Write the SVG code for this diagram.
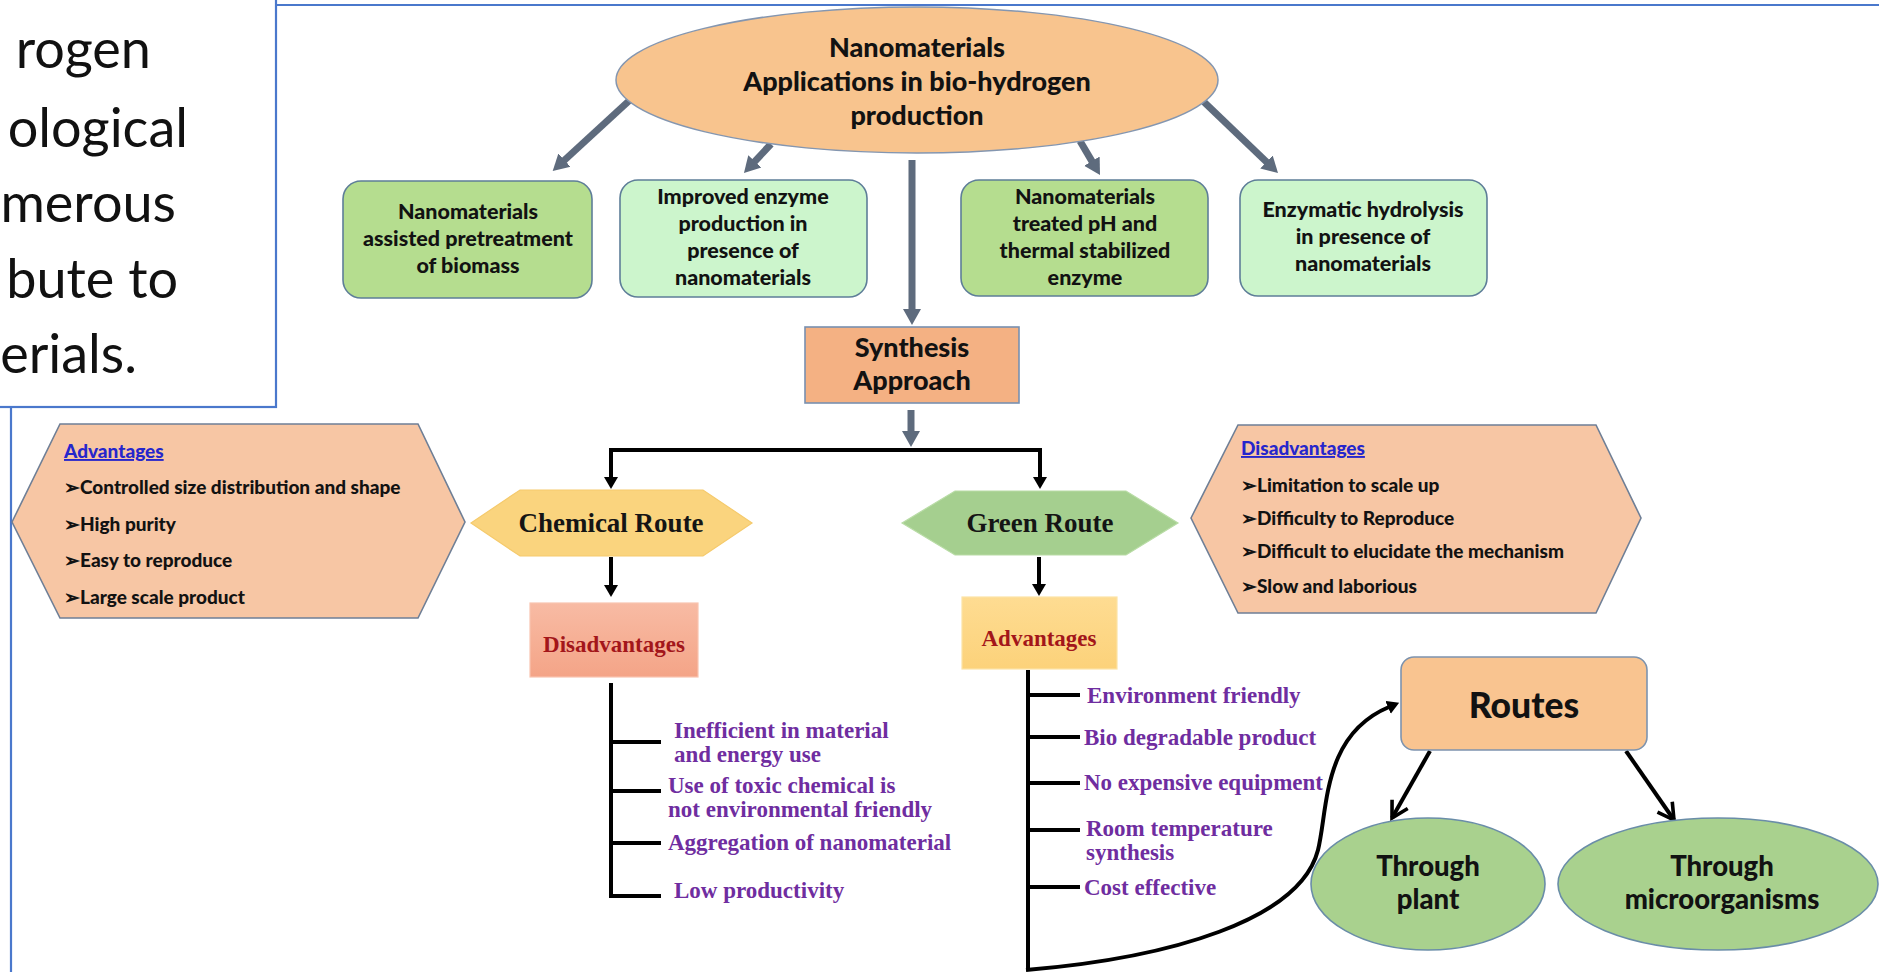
<svg xmlns="http://www.w3.org/2000/svg" width="1879" height="972" viewBox="0 0 1879 972">
  <defs>
    <style>
      .sans{font-family:Lato,"Open Sans","Liberation Sans",sans-serif;font-weight:900;fill:#121212}
      .serif{font-family:"Liberation Serif","DejaVu Serif",serif;font-weight:700}
      .mid{text-anchor:middle}
      .box{stroke:#5E7E98;stroke-width:1.6}
      .green{fill:#B5DD8F}
      .mint{fill:#CCF5CC}
      .peach{fill:#F7C6A4;stroke:#6F7F96;stroke-width:1.6}
      .item{font-size:19px}
      .head{font-size:19px;fill:#2626CC;text-decoration:underline}
      .tb{font-size:21.5px}
      .purple{fill:#6F2DA0;font-size:23px}
      .route{font-size:27px;fill:#151515}
      .red{fill:#A3161A;font-size:23px}
      .gray{stroke:#5E6B7D;stroke-width:7;fill:none}
      .blk{stroke:#000;stroke-width:4;fill:none}
      .frame{stroke:#4A78CC;stroke-width:2.2;fill:none}
    </style>
    <marker id="ag" markerUnits="userSpaceOnUse" markerWidth="20" markerHeight="20" viewBox="0 0 20 20" refX="2" refY="10" orient="auto">
      <path d="M0,1 L16,10 L0,19 z" fill="#5E6B7D"/>
    </marker>
    <marker id="ab" markerUnits="userSpaceOnUse" markerWidth="14" markerHeight="14" viewBox="0 0 14 14" refX="1" refY="7" orient="auto-start-reverse">
      <path d="M0,0 L12,7 L0,14 z" fill="#000"/>
    </marker>
    <marker id="av" markerUnits="userSpaceOnUse" markerWidth="24" markerHeight="24" viewBox="0 0 24 24" refX="19" refY="12" orient="auto">
      <path d="M3,3 L19,12 L3,21" fill="none" stroke="#000" stroke-width="3.6"/>
    </marker>
    <linearGradient id="gDis" x1="0" y1="0" x2="0" y2="1">
      <stop offset="0" stop-color="#F8BBA4"/>
      <stop offset="1" stop-color="#F4A487"/>
    </linearGradient>
    <linearGradient id="gAdv" x1="0" y1="0" x2="0" y2="1">
      <stop offset="0" stop-color="#FEDC92"/>
      <stop offset="1" stop-color="#FCD27A"/>
    </linearGradient>
  </defs>

  <rect width="1879" height="972" fill="#FFFFFF"/>

  <!-- slide frame behind the chart -->
  <path class="frame" d="M276,5 H1879 M11,407 V972"/>

  <!-- clipped slide text panel -->
  <g id="text-panel">
    <rect x="-10" y="-10" width="286" height="417" fill="#FFFFFF" class="frame"/>
    <g font-family="Lato,'Open Sans',sans-serif" font-size="54" fill="#111" text-anchor="end">
      <text x="151" y="68">rogen</text>
      <text x="188" y="147">ological</text>
      <text x="176" y="222">merous</text>
      <text x="178" y="298">bute to</text>
      <text x="137" y="373">erials.</text>
    </g>
  </g>

  <!-- connectors -->
  <g id="connectors">
    <line class="gray" x1="631" y1="99" x2="563" y2="161.5" marker-end="url(#ag)"/>
    <line class="gray" x1="771" y1="144" x2="753.5" y2="162.8" marker-end="url(#ag)"/>
    <line class="gray" x1="912" y1="160" x2="912" y2="311" marker-end="url(#ag)"/>
    <line class="gray" x1="1080" y1="141" x2="1092.9" y2="162.9" marker-end="url(#ag)"/>
    <line class="gray" x1="1204" y1="102" x2="1267.9" y2="163.3" marker-end="url(#ag)"/>
    <line class="gray" x1="911" y1="410" x2="911" y2="433" marker-end="url(#ag)"/>

    <path class="blk" d="M611,478 V450 H1040 V478" marker-start="url(#ab)" marker-end="url(#ab)"/>
    <line class="blk" x1="611" y1="557" x2="611" y2="586" marker-end="url(#ab)"/>
    <line class="blk" x1="1039" y1="557" x2="1039" y2="585" marker-end="url(#ab)"/>

    <!-- chemical route drawbacks tree -->
    <path class="blk" d="M611,683 V896 H661 M611,742 H661 M611,791 H661 M611,843 H661" stroke-width="4.5"/>
    <!-- green route benefits tree -->
    <path class="blk" d="M1028,670 V970 M1028,695 H1080 M1028,737 H1080 M1028,783 H1080 M1028,830 H1080 M1028,887 H1080" stroke-width="4.5"/>
    <path class="blk" d="M1026,970 C1170,958 1300,920 1318,850 C1328,810 1322,735 1389,707" stroke-width="3.5" marker-end="url(#ab)"/>

    <line class="blk" x1="1430" y1="751" x2="1392" y2="818" marker-end="url(#av)"/>
    <line class="blk" x1="1626" y1="751" x2="1674" y2="820" marker-end="url(#av)"/>
  </g>

  <!-- root topic -->
  <g id="root">
    <ellipse cx="917" cy="80" rx="301" ry="73" fill="#F8C48E" stroke="#8496B0" stroke-width="1.5"/>
    <text class="sans mid" font-size="27" x="917" y="57">Nanomaterials</text>
    <text class="sans mid" font-size="27" x="917" y="91">Applications in bio-hydrogen</text>
    <text class="sans mid" font-size="27" x="917" y="125">production</text>
  </g>

  <g id="pretreatment">
    <rect class="box green" x="343" y="181" width="249" height="117" rx="18"/>
    <text class="sans mid tb" x="468" y="219">Nanomaterials</text>
    <text class="sans mid tb" x="468" y="246">assisted pretreatment</text>
    <text class="sans mid tb" x="468" y="273">of biomass</text>
  </g>

  <g id="enzyme-production">
    <rect class="box mint" x="620" y="180" width="247" height="117" rx="18"/>
    <text class="sans mid tb" x="743" y="204">Improved enzyme</text>
    <text class="sans mid tb" x="743" y="231">production in</text>
    <text class="sans mid tb" x="743" y="258">presence of</text>
    <text class="sans mid tb" x="743" y="285">nanomaterials</text>
  </g>

  <g id="stabilized-enzyme">
    <rect class="box green" x="961" y="180" width="247" height="116" rx="18"/>
    <text class="sans mid tb" x="1085" y="204">Nanomaterials</text>
    <text class="sans mid tb" x="1085" y="231">treated pH and</text>
    <text class="sans mid tb" x="1085" y="258">thermal stabilized</text>
    <text class="sans mid tb" x="1085" y="285">enzyme</text>
  </g>

  <g id="hydrolysis">
    <rect class="box mint" x="1240" y="180" width="247" height="116" rx="18"/>
    <text class="sans mid tb" x="1363" y="217">Enzymatic hydrolysis</text>
    <text class="sans mid tb" x="1363" y="244">in presence of</text>
    <text class="sans mid tb" x="1363" y="271">nanomaterials</text>
  </g>

  <g id="synthesis">
    <rect x="805" y="327" width="214" height="76" fill="#F4B183" stroke="#7890B0" stroke-width="1.6"/>
    <text class="sans mid" font-size="27" x="912" y="357">Synthesis</text>
    <text class="sans mid" font-size="27" x="912" y="390">Approach</text>
  </g>

  <g id="chemical-advantages">
    <polygon class="peach" points="12,522 60,424 418,424 465,522 418,618 60,618"/>
    <text class="sans head" x="64" y="458">Advantages</text>
    <text class="sans item" x="64" y="494">➢Controlled size distribution and shape</text>
    <text class="sans item" x="64" y="531">➢High purity</text>
    <text class="sans item" x="64" y="567">➢Easy to reproduce</text>
    <text class="sans item" x="64" y="604">➢Large scale product</text>
  </g>

  <g id="chemical-route">
    <polygon points="471,523 520,490 703,490 752,523 703,556 520,556" fill="#FAD47E" stroke="#F5CA6C" stroke-width="1.2"/>
    <text class="serif route mid" x="611" y="532">Chemical Route</text>
  </g>

  <g id="green-route">
    <polygon points="902,523 955,491 1126,491 1178,523 1126,555 955,555" fill="#A5CF8F" stroke="#B9DCA6" stroke-width="1.2"/>
    <text class="serif route mid" x="1040" y="532">Green Route</text>
  </g>

  <g id="green-disadvantages">
    <polygon class="peach" points="1191,518 1238,425 1596,425 1641,518 1596,613 1238,613"/>
    <text class="sans head" x="1241" y="455">Disadvantages</text>
    <text class="sans item" x="1241" y="492">➢Limitation to scale up</text>
    <text class="sans item" x="1241" y="525">➢Difficulty to Reproduce</text>
    <text class="sans item" x="1241" y="558">➢Difficult to elucidate the mechanism</text>
    <text class="sans item" x="1241" y="593">➢Slow and laborious</text>
  </g>

  <g id="chemical-disadvantages">
    <rect x="530" y="603" width="168" height="74" fill="url(#gDis)" stroke="#F9C4B0" stroke-width="1.2"/>
    <text class="serif red mid" x="614" y="652">Disadvantages</text>
    <g class="serif purple">
      <text x="674" y="738">Inefficient in material</text>
      <text x="674" y="762">and energy use</text>
      <text x="668" y="793">Use of toxic chemical is</text>
      <text x="668" y="817">not environmental friendly</text>
      <text x="668" y="850">Aggregation of nanomaterial</text>
      <text x="674" y="898">Low productivity</text>
    </g>
  </g>

  <g id="green-advantages">
    <rect x="962" y="597" width="155" height="72" fill="url(#gAdv)" stroke="#FCE3A6" stroke-width="1.2"/>
    <text class="serif red mid" x="1039" y="646">Advantages</text>
    <g class="serif purple">
      <text x="1087" y="703">Environment friendly</text>
      <text x="1084" y="745">Bio degradable product</text>
      <text x="1084" y="790">No expensive equipment</text>
      <text x="1086" y="836">Room temperature</text>
      <text x="1086" y="860">synthesis</text>
      <text x="1084" y="895">Cost effective</text>
    </g>
  </g>

  <g id="routes">
    <rect x="1401" y="657" width="246" height="93" rx="13" fill="#F9C490" stroke="#7D93AE" stroke-width="1.6"/>
    <text class="sans mid" font-size="35.5" x="1524" y="718">Routes</text>
  </g>

  <g id="through-plant">
    <ellipse cx="1428" cy="884" rx="117" ry="66" fill="#A9D18E" stroke="#6A8DA8" stroke-width="1.6"/>
    <text class="sans mid" font-size="27.5" x="1428" y="876">Through</text>
    <text class="sans mid" font-size="27.5" x="1428" y="909">plant</text>
  </g>

  <g id="through-microorganisms">
    <ellipse cx="1718" cy="884" rx="160" ry="66" fill="#A9D18E" stroke="#6A8DA8" stroke-width="1.6"/>
    <text class="sans mid" font-size="27.5" x="1722" y="876">Through</text>
    <text class="sans mid" font-size="27.5" x="1722" y="909">microorganisms</text>
  </g>
</svg>
